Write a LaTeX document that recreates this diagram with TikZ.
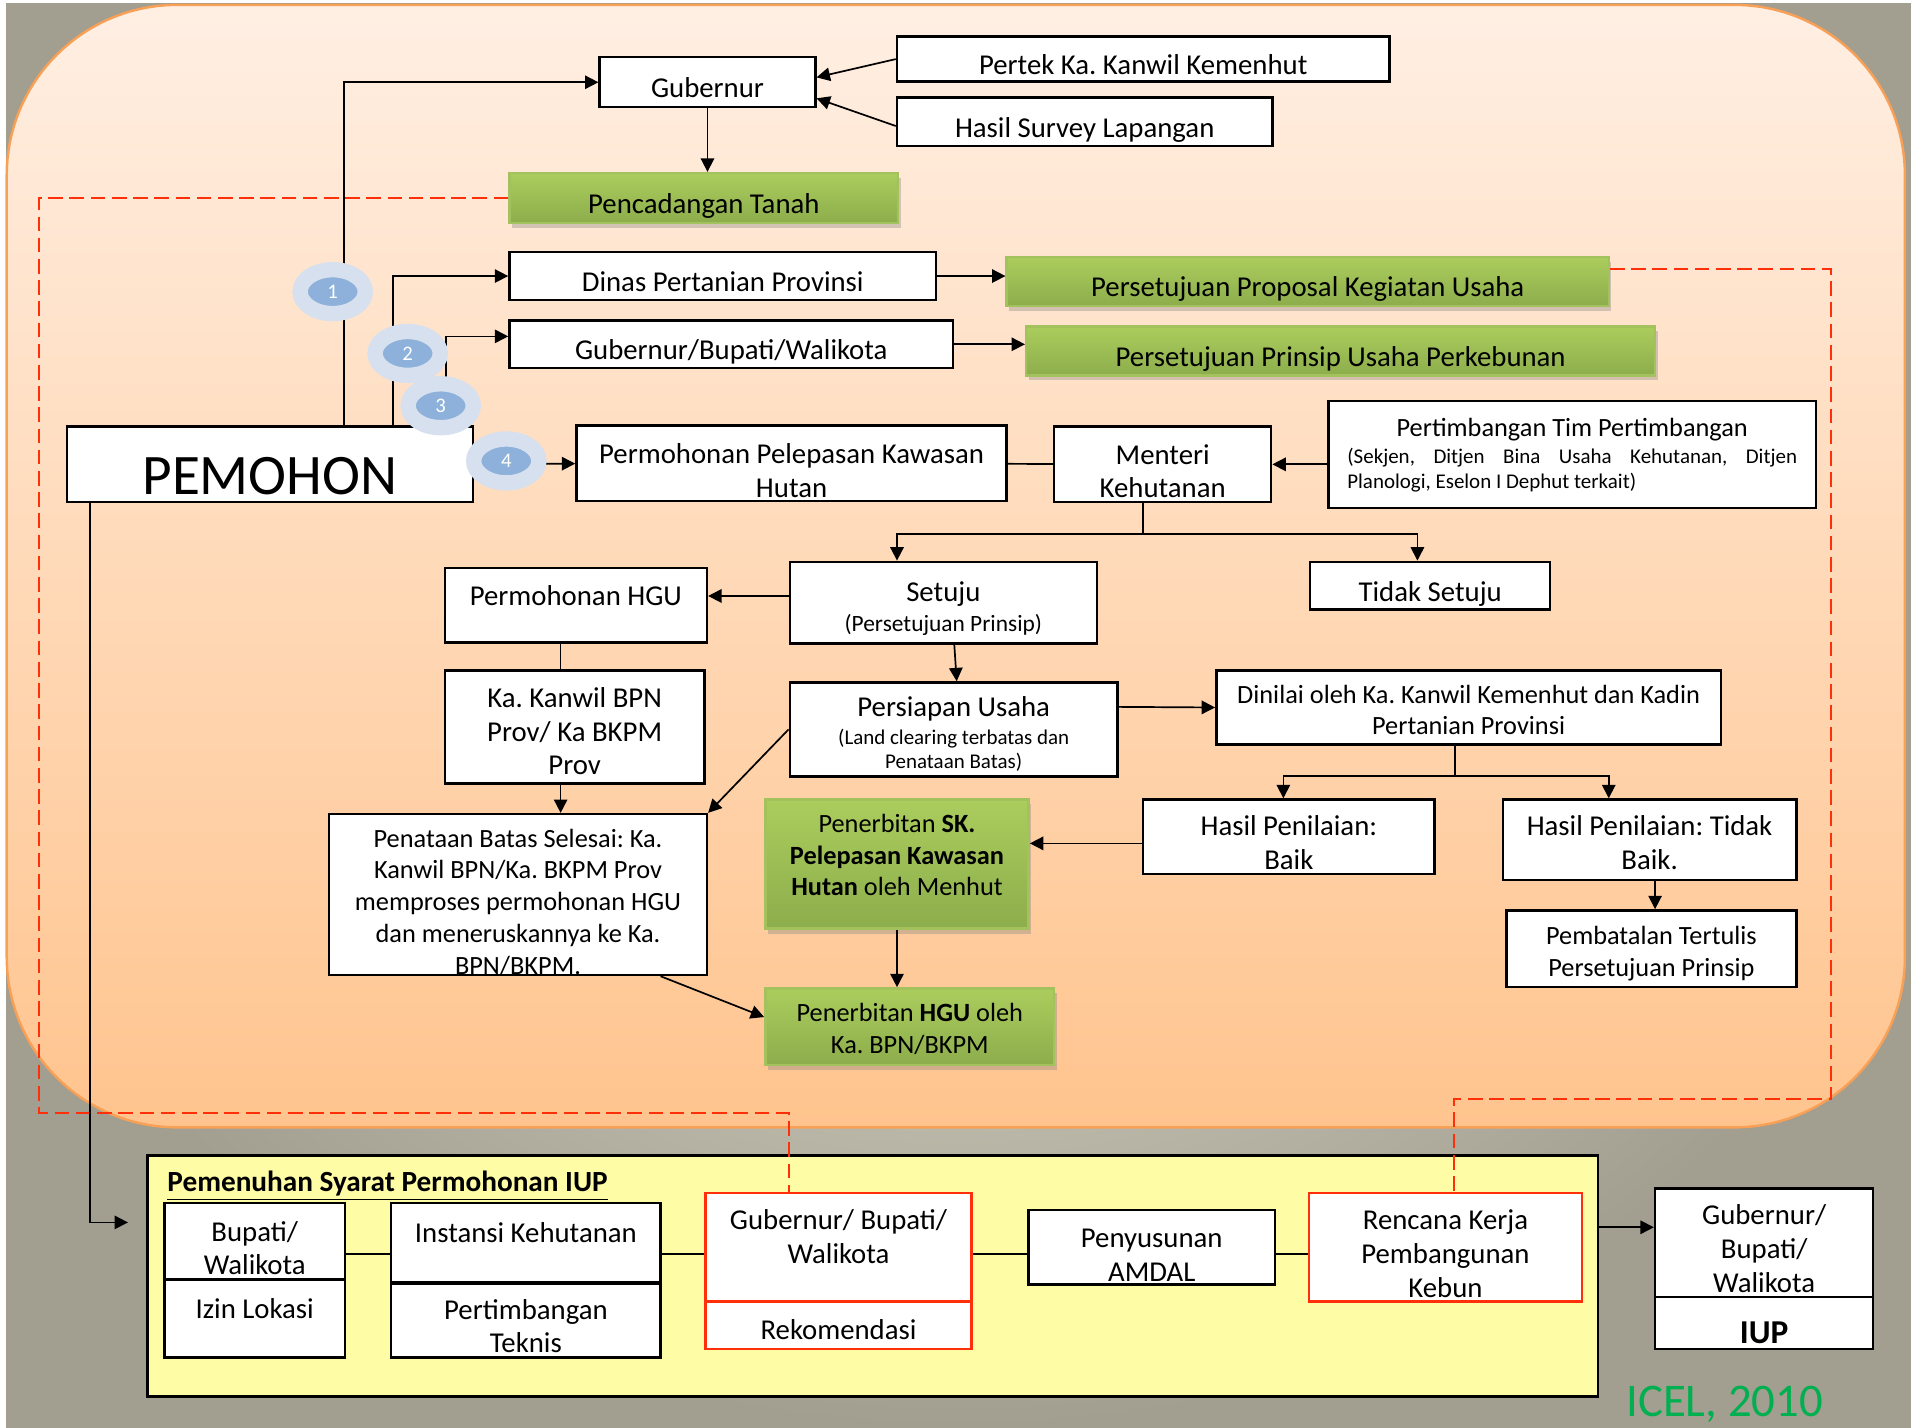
\documentclass[tikz,border=0pt]{standalone}
\usepackage{fontspec}
\setmainfont{Carlito}
\usepackage{tikz}
\usetikzlibrary{arrows.meta}
\usetikzlibrary{shapes.geometric}
\usetikzlibrary{shadows}
\frenchspacing

\definecolor{abuterang}{HTML}{DCD9C8}
\definecolor{abugelap}{HTML}{A29E90}
\definecolor{oranyeatas}{HTML}{FFEFE3}
\definecolor{oranyebawah}{HTML}{FFC48E}
\definecolor{oranyegaris}{HTML}{F9A057}
\definecolor{hijauatas}{HTML}{ABCD5D}
\definecolor{hijaubawah}{HTML}{8CAD4B}
\definecolor{hijaugaris}{HTML}{A3C25E}
\definecolor{kuning}{HTML}{FFFCA6}
\definecolor{merahc}{HTML}{FF2F0A}
\definecolor{birumuda}{HTML}{D7E0EE}
\definecolor{birutua}{HTML}{8DB1DA}
\definecolor{icel}{HTML}{00B050}

\newcommand{\kecil}{\fontsize{8.6pt}{10.5pt}\selectfont}
\newcommand{\sedang}{\fontsize{9.6pt}{12pt}\selectfont}

\begin{document}
\begin{tikzpicture}
            [every node/.style={inner sep=0pt},
             box/.style={rectangle, draw=black, fill=white, line width=1pt, align=center, font=\fontsize{11.8pt}{13.8pt}\selectfont},
             kecilbox/.style={font=\fontsize{10.8pt}{13pt}\selectfont},
             hijau/.style={box, draw=hijaugaris, top color=hijauatas, bottom color=hijaubawah, drop shadow={shadow xshift=1pt, shadow yshift=-2pt, opacity=0.35}},
             merahbox/.style={box, draw=merahc},
             turun/.style={text height=#1, text depth=0pt},
             oneline/.style={turun=12.5pt},
             bulat/.style={ellipse, minimum width=26.75pt, minimum height=18pt, fill=birutua, draw=birumuda, line width=6.3pt, text=white, font=\fontsize{8.5pt}{10pt}\selectfont},
             garis/.style={line width=0.7pt, color=black},
             redline/.style={line width=0.8pt, color=merahc, dash pattern=on 6pt off 2.7pt},
             >={Triangle[length=5.5pt, width=5.5pt]}]
                \useasboundingbox (0pt, 0pt) rectangle (784pt, -585.5pt);
                \clip (0pt, 0pt) rectangle (784pt, -585.5pt);
                \shade [inner color=abuterang, outer color=abugelap] (2.5pt, -1.5pt) rectangle (784pt, -585.5pt);
                \shade [top color=oranyeatas, bottom color=oranyebawah, draw=oranyegaris, line width=1pt, rounded corners=70pt] (2.75pt, -2pt) rectangle (781.5pt, -462.5pt);
                \node (1) [box, oneline, minimum width=88.5pt, minimum height=20.5pt] at (290.25pt, -33.75pt) {Gubernur};
                \node (2) [box, oneline, minimum width=202pt, minimum height=18.5pt] at (469pt, -24.25pt) {Pertek Ka. Kanwil Kemenhut};
                \node (3) [box, oneline, minimum width=154pt, minimum height=20pt] at (445pt, -50pt) {Hasil Survey Lapangan};
                \node (4) [hijau, oneline, minimum width=159.5pt, minimum height=20.5pt] at (288.75pt, -81.25pt) {Pencadangan Tanah};
                \node (5) [box, oneline, minimum width=175pt, minimum height=19.5pt] at (296.5pt, -113.25pt) {Dinas Pertanian Provinsi};
                \node (6) [hijau, oneline, minimum width=247pt, minimum height=20pt] at (536.5pt, -115.5pt) {Persetujuan Proposal Kegiatan Usaha};
                \node (7) [box, oneline, minimum width=182pt, minimum height=19.5pt] at (300pt, -141.25pt) {Gubernur/Bupati/Walikota};
                \node (8) [hijau, oneline, minimum width=258pt, minimum height=20pt] at (550pt, -144pt) {Persetujuan Prinsip Usaha Perkebunan};
                \node (9) [box, turun=25pt, minimum width=166.5pt, minimum height=31pt, font=\fontsize{23.5pt}{28pt}\selectfont] at (110.75pt, -190.5pt) {PEMOHON};
                \node (10) [box, turun=27.8pt, minimum width=176.5pt, minimum height=31pt] at (324.75pt, -190pt) {Permohonan Pelepasan Kawasan\\Hutan};
                \node (11) [box, turun=27.6pt, minimum width=89pt, minimum height=31pt] at (477pt, -190.5pt) {Menteri\\Kehutanan};
                \node (12) [box, kecilbox, turun=27.7pt, minimum width=200pt, minimum height=44pt] at (645pt, -186.5pt) {Pertimbangan Tim Pertimbangan\\[-2.05pt]{\kecil\makebox[184.5pt][s]{(Sekjen, Ditjen Bina Usaha Kehutanan, Ditjen}}\\[-2.75pt]{\kecil\makebox[184.5pt][l]{Planologi, Eselon I Dephut terkait)}}};
                \node (13) [box, turun=23.8pt, minimum width=126pt, minimum height=33.5pt] at (387pt, -247.25pt) {Setuju\\[-1.5pt]{\sedang (Persetujuan Prinsip)}};
                \node (14) [box, turun=13.3pt, minimum width=98.5pt, minimum height=19.5pt] at (586.75pt, -240.25pt) {Tidak Setuju};
                \node (15) [box, turun=0pt, minimum width=107.5pt, minimum height=30.5pt] at (236.25pt, -248.25pt) {Permohonan HGU};
                \node (16) [box, turun=39.2pt, minimum width=106.5pt, minimum height=46.5pt] at (235.75pt, -298.25pt) {Ka. Kanwil BPN\\Prov/ Ka BKPM\\Prov};
                \node (17) [box, turun=32pt, minimum width=134.5pt, minimum height=38.5pt] at (391.25pt, -299.25pt) {Persiapan Usaha\\[-2.55pt]{\kecil (Land clearing terbatas dan}\\[-3.8pt]{\kecil Penataan Batas)}};
                \node (18) [box, kecilbox, turun=65.2pt, minimum width=155pt, minimum height=66pt] at (212.5pt, -367pt) {Penataan Batas Selesai: Ka.\\Kanwil BPN/Ka. BKPM Prov\\memproses permohonan HGU\\dan meneruskannya ke Ka.\\BPN/BKPM.};
                \node (19) [box, kecilbox, turun=22.5pt, minimum width=207pt, minimum height=30.5pt] at (602.5pt, -290.25pt) {Dinilai oleh Ka. Kanwil Kemenhut dan Kadin\\Pertanian Provinsi};
                \node (20) [box, turun=26.6pt, minimum width=119.5pt, minimum height=30.5pt] at (528.75pt, -343.25pt) {Hasil Penilaian:\\Baik};
                \node (21) [box, turun=24.1pt, minimum width=120.5pt, minimum height=33pt] at (676.75pt, -344.5pt) {Hasil Penilaian: Tidak\\Baik.};
                \node (22) [box, kecilbox, turun=22.5pt, minimum width=119pt, minimum height=31.5pt] at (677.5pt, -389.25pt) {Pembatalan Tertulis\\Persetujuan Prinsip};
                \node (23) [hijau, kecilbox, turun=26pt, minimum width=108pt, minimum height=53pt] at (368pt, -354.5pt) {Penerbitan \textbf{SK.}\\\textbf{Pelepasan Kawasan}\\\textbf{Hutan} oleh Menhut};
                \node (24) [hijau, kecilbox, turun=21.5pt, minimum width=118.5pt, minimum height=31.5pt] at (373.25pt, -421.25pt) {Penerbitan \textbf{HGU} oleh\\Ka. BPN/BKPM};
                \node (25) [box, fill=kuning, minimum width=595pt, minimum height=99pt] at (358pt, -523.5pt) {};
                \node (26) [box, turun=27.6pt, minimum width=74pt, minimum height=31.5pt] at (104.5pt, -509.25pt) {Bupati/\\Walikota};
                \node (27) [box, turun=0pt, minimum width=74pt, minimum height=32pt] at (104.5pt, -541pt) {Izin Lokasi};
                \node (28) [box, turun=0pt, minimum width=110.5pt, minimum height=32.5pt] at (215.75pt, -509.75pt) {Instansi Kehutanan};
                \node (29) [box, turun=26.6pt, minimum width=110.5pt, minimum height=30.5pt] at (215.75pt, -541.75pt) {Pertimbangan\\Teknis};
                \node (30) [merahbox, turun=13.3pt, minimum width=109pt, minimum height=44.5pt] at (344pt, -511.75pt) {Gubernur/ Bupati/\\Walikota};
                \node (31) [merahbox, turun=11.4pt, minimum width=109pt, minimum height=19.5pt] at (344pt, -543.75pt) {Rekomendasi};
                \node (32) [box, turun=27.6pt, minimum width=101pt, minimum height=30.5pt] at (472.5pt, -511.75pt) {Penyusunan\\AMDAL};
                \node (33) [merahbox, turun=40.9pt, minimum width=112pt, minimum height=44.5pt] at (593pt, -511.75pt) {Rencana Kerja\\Pembangunan\\Kebun};
                \node (34) [box, turun=40.7pt, minimum width=89.5pt, minimum height=44.5pt] at (723.75pt, -509.75pt) {Gubernur/\\Bupati/\\Walikota};
                \node (35) [box, turun=16.5pt, minimum width=89.5pt, minimum height=21.5pt, font=\fontsize{13.7pt}{16pt}\selectfont\bfseries] at (723.75pt, -542.75pt) {IUP};
                \coordinate (a) at (469pt, -219pt);
                \coordinate (b) at (597pt, -318.5pt);
                \coordinate (c) at (52.5pt, -501.5pt);
                \coordinate (d) at (16pt, -456.5pt);
                \coordinate (e) at (751.3pt, -450.85pt);
                \draw [redline] (4.west) -| (d) -| ([xshift=-20.5pt]30.north);
                \draw [redline] ([yshift=5pt]6.east) -| (e) -| ([xshift=3.4pt]33.north);
                \draw [garis, ->] ([xshift=30.25pt]9.north) |- (1);
                \draw [garis, ->] ([xshift=50.55pt]9.north) |- (5);
                \draw [garis, ->] ([xshift=72.1pt]9.north) |- ([yshift=3.25pt]7.west);
                \draw [garis, ->] (9) -- (10);
                \draw [garis, ->] (2.west) -- ([yshift=2pt]1.east);
                \draw [garis, ->] ([yshift=-1.7pt]3.west) -- ([yshift=-6.6pt]1.east);
                \draw [garis, ->] (1) -- (1 |- 4.north);
                \draw [garis, ->] (5) -- (5 -| 6.west);
                \draw [garis, ->] (7) -- (7 -| 8.west);
                \draw [garis] (10) -- (11);
                \draw [garis, ->] (12.west |- 11) -- (11);
                \draw [garis] ([xshift=-8pt]11.south) -- (a);
                \draw [garis, ->] (a) -| ([xshift=-19pt]13.north);
                \draw [garis, ->] (a) -| ([xshift=-5.25pt]14.north);
                \draw [garis, ->] ([yshift=2.75pt]13.west) -- ([yshift=2.75pt]13.west -| 15.east);
                \draw [garis] ([xshift=-6.25pt]15.south) -- ([xshift=-6.25pt]15.south |- 16.north);
                \draw [garis, ->] ([xshift=-5.75pt]16.south) -- ([xshift=-5.75pt]16.south |- 18.north);
                \draw [garis, ->] ([xshift=4.5pt]13.south) -- ([xshift=1.25pt]17.north);
                \draw [garis, ->] (17.west) -- (18.north east);
                \draw [garis, ->] ([yshift=9.25pt]17.east) -- (19.west);
                \draw [garis] ([xshift=-5.5pt]19.south) -- (b);
                \draw [garis, ->] (b) -| ([xshift=-2.25pt]20.north);
                \draw [garis, ->] (b) -| ([xshift=-16.75pt]21.north);
                \draw [garis, ->] ([xshift=2.25pt]21.south) -- ([xshift=2.25pt]21.south |- 22.north);
                \draw [garis, ->] ([yshift=-2.75pt]20.west) -- ([yshift=-2.75pt]20.west -| 23.east);
                \draw [garis, ->] (23) -- (23 |- 24.north);
                \draw [garis, ->] ([xshift=58.5pt]18.south) -- ([yshift=4pt]24.west);
                \draw [garis, ->] ([xshift=-73.75pt]9.south) |- (c);
                \draw [garis] ([yshift=-5.25pt]26.east) -- ([yshift=-5.25pt]26.east -| 28.west);
                \draw [garis] ([yshift=-4.75pt]28.east) -- ([yshift=-4.75pt]28.east -| 30.west);
                \draw [garis] ([yshift=-2.75pt]30.east) -- ([yshift=-2.75pt]32.west);
                \draw [garis] ([yshift=-2.75pt]32.east) -- ([yshift=-2.75pt]33.west);
                \draw [garis, ->] ([yshift=20pt]25.east) -- ([yshift=20pt]25.east -| 34.west);
                \node (36) [bulat] at (136.5pt, -119.65pt) {1};
                \node (37) [bulat] at (167.25pt, -145pt) {2};
                \node (38) [bulat] at (180.8pt, -166.45pt) {3};
                \node (39) [bulat] at (207.7pt, -189.1pt) {4};
                \node (40) [anchor=base west, font=\fontsize{12pt}{14pt}\selectfont\bfseries] at (68.5pt, -489pt) {\underline{Pemenuhan Syarat Permohonan IUP}};
                \node (41) [anchor=base west, text=icel, font=\fontsize{19.2pt}{22pt}\selectfont] at (667pt, -581pt) {ICEL, 2010};
            \end{tikzpicture}
\end{document}
